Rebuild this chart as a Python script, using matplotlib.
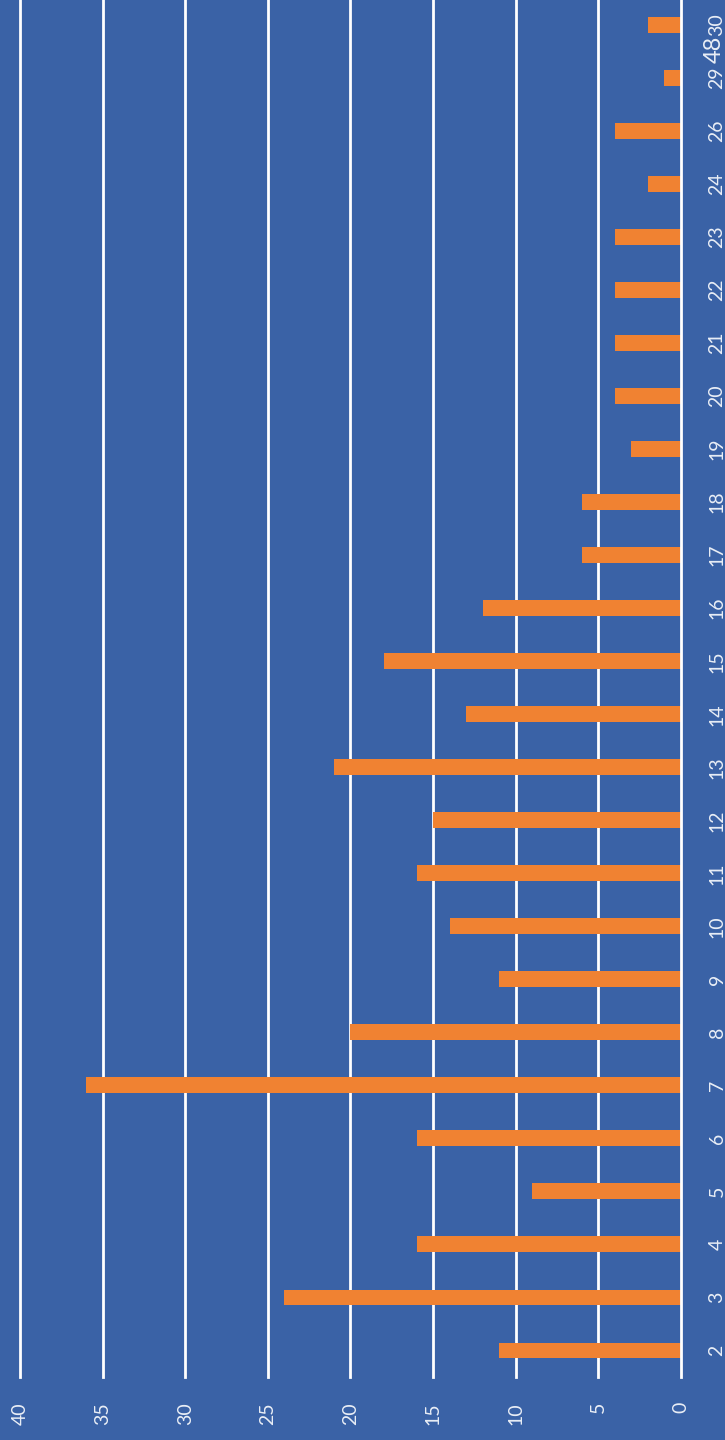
import matplotlib
matplotlib.use("Agg")
import matplotlib.pyplot as plt

categories = ["2", "3", "4", "5", "6", "7", "8", "9", "10", "11", "12", "13",
              "14", "15", "16", "17", "18", "19", "20", "21", "22", "23", "24",
              "26", "29", "30"]
counts = [11, 24, 16, 9, 16, 36, 20, 11, 14, 16, 15, 21,
          13, 18, 12, 6, 6, 3, 4, 4, 4, 4, 2,
          4, 1, 2]
value_ticks = [0, 5, 10, 15, 20, 25, 30, 35, 40]
corner_note = "48"

BG = "#3a62a6"
BAR = "#f08232"
FG = "#e9eef6"
FONT = ["Lato", "DejaVu Sans"]

W, H = 725, 1440
fig = plt.figure(figsize=(W / 100, H / 100), dpi=100)
fig.patch.set_facecolor(BG)

# plot area in pixel coordinates
left_px, right_px = 0, 681
top_px, bottom_px = -1.5, 1377
ax = fig.add_axes([left_px / W, 1 - bottom_px / H,
                   (right_px - left_px) / W, (bottom_px - top_px) / H])
ax.set_facecolor(BG)

ypos = list(range(len(categories)))
ax.barh(ypos, counts, height=0.3, color=BAR, zorder=3)

# value axis runs right-to-left, 0 at the right edge
px_per_unit = (681 - 20) / 40
ax.set_xlim(40 + 20 / px_per_unit, 0)
ax.set_ylim(-0.5, len(categories) - 0.5)

for v in value_ticks:
    ax.axvline(v, color="white", lw=2.0, zorder=2 if v else 4, clip_on=False)

for s in ax.spines.values():
    s.set_visible(False)

ax.set_xticks(value_ticks)
ax.set_xticklabels([str(v) for v in value_ticks], rotation=90,
                   fontsize=14, color=FG, family=FONT)
ax.tick_params(axis="x", length=0, pad=18)

ax.yaxis.tick_right()
ax.set_yticks(ypos)
ax.set_yticklabels(categories, rotation=90, va="center",
                   fontsize=14, color=FG, family=FONT)
ax.tick_params(axis="y", length=0, pad=26)
for lbl in ax.get_yticklabels():
    lbl.set_horizontalalignment("center")

fig.text(714 / W, 1 - 49 / H, corner_note, rotation=90, ha="center", va="center",
         fontsize=17, color=FG, family=FONT)

fig.savefig("out.png", dpi=100, facecolor=BG)
